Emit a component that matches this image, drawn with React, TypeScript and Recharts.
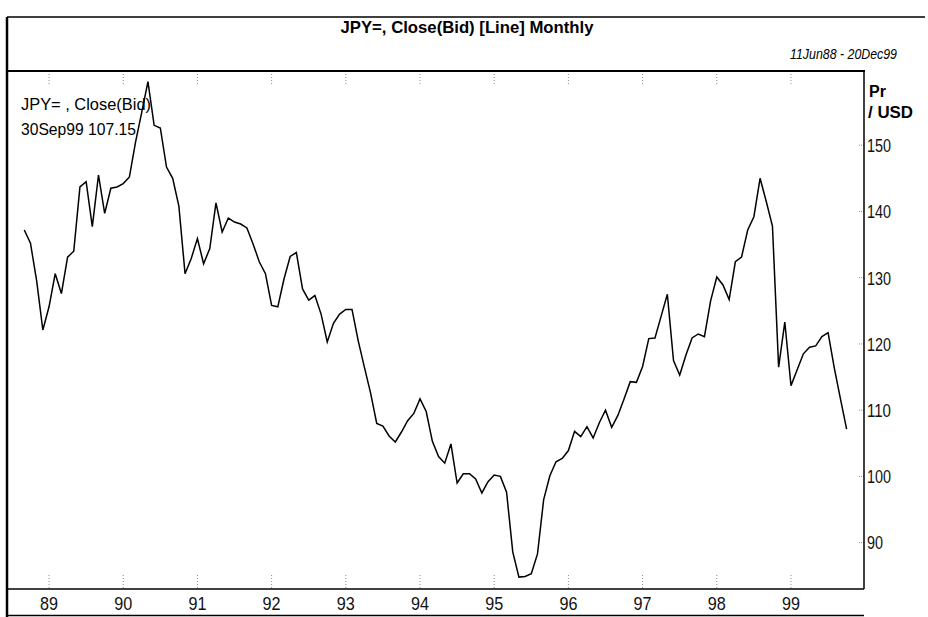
import { Line, LineChart, XAxis, YAxis } from "recharts";

// month-end closes, JPY per USD (first value = end Aug 1988)
const START_YEAR = 1988;
const START_MONTH = 8;

const closes1988 = [137.2, 135.2, 129.5, 122.1, 125.6];
const closes1989 = [130.6, 127.6, 133.1, 134.0, 143.7, 144.5, 137.7, 145.5, 139.7, 143.5, 143.7, 144.2];
const closes1990 = [145.2, 150.5, 155.0, 159.6, 153.0, 152.6, 146.7, 145.0, 140.8, 130.6, 132.9, 135.9];
const closes1991 = [132.1, 134.4, 141.3, 136.9, 139.0, 138.4, 138.1, 137.5, 135.1, 132.4, 130.6, 125.8];
const closes1992 = [125.6, 129.8, 133.2, 133.8, 128.3, 126.6, 127.3, 124.5, 120.3, 123.1, 124.5, 125.2];
const closes1993 = [125.2, 120.5, 116.5, 112.6, 108.0, 107.6, 106.1, 105.2, 106.7, 108.4, 109.5, 111.7];
const closes1994 = [109.8, 105.3, 103.0, 102.0, 104.9, 99.0, 100.4, 100.4, 99.6, 97.5, 99.2, 100.2];
const closes1995 = [100.0, 97.6, 88.6, 84.8, 84.9, 85.3, 88.3, 96.5, 100.1, 102.2, 102.7, 103.9];
const closes1996 = [106.8, 106.0, 107.5, 105.8, 108.1, 110.0, 107.4, 109.2, 111.7, 114.3, 114.2, 116.6];
const closes1997 = [120.8, 120.9, 124.2, 127.5, 117.5, 115.3, 118.3, 120.9, 121.5, 121.1, 126.5, 130.1];
const closes1998 = [128.9, 126.7, 132.4, 133.1, 137.2, 139.2, 145.0, 141.5, 137.8, 116.5, 123.3, 113.7];
const closes1999 = [116.1, 118.5, 119.5, 119.7, 121.1, 121.7, 116.4, 111.7, 107.15];

const closes = [
  ...closes1988,
  ...closes1989,
  ...closes1990,
  ...closes1991,
  ...closes1992,
  ...closes1993,
  ...closes1994,
  ...closes1995,
  ...closes1996,
  ...closes1997,
  ...closes1998,
  ...closes1999,
];

const yearTicks = [1989, 1990, 1991, 1992, 1993, 1994, 1995, 1996, 1997, 1998, 1999];
const priceTicks = [90, 100, 110, 120, 130, 140, 150];

// 11Jun88 - 20Dec99
const X_DOMAIN: [number, number] = [1988.447, 1999.984];
const Y_DOMAIN: [number, number] = [83, 161.2];

const W = 928;
const H = 617;
const PLOT = { left: 8, top: 71, right: 864, bottom: 589 };
const FONT = "'Liberation Sans Narrow', 'Liberation Sans', Arial, sans-serif";

const data = closes.map((close, i) => ({ t: START_YEAR + (START_MONTH + i) / 12, close }));

function YearTick({ x, payload }: any) {
  const label = String(payload.value).slice(2);
  return (
    <g>
      <line x1={x} x2={x} y1={PLOT.top} y2={PLOT.top + 14} stroke="#8a8a8a" strokeDasharray="1 2" />
      <line x1={x} x2={x} y1={PLOT.bottom - 14} y2={PLOT.bottom} stroke="#8a8a8a" strokeDasharray="1 2" />
      <text
        x={x}
        y={610}
        textAnchor="middle"
        fontFamily={FONT}
        fontSize={19}
        textLength={label.length * 9}
        lengthAdjust="spacingAndGlyphs"
        fill="#111"
      >
        {label}
      </text>
    </g>
  );
}

function PriceTick({ y, payload }: any) {
  const label = String(payload.value);
  return (
    <g>
      <line x1={PLOT.right - 5} x2={PLOT.right} y1={y} y2={y} stroke="#8a8a8a" strokeDasharray="1 1" />
      <text
        x={PLOT.right + 3}
        y={y}
        dy="0.36em"
        fontFamily={FONT}
        fontSize={19}
        textLength={label.length * 8}
        lengthAdjust="spacingAndGlyphs"
        fill="#111"
      >
        {label}
      </text>
    </g>
  );
}

export default function App() {
  return (
    <div style={{ position: "absolute", left: 0, top: 0, width: W, height: H, background: "#fff" }}>
      <LineChart
        width={W}
        height={H}
        data={data}
        margin={{ top: PLOT.top, left: PLOT.left, right: 0, bottom: 0 }}
      >
        <XAxis
          dataKey="t"
          type="number"
          domain={X_DOMAIN}
          ticks={yearTicks}
          interval={0}
          allowDataOverflow
          axisLine={false}
          tickLine={false}
          height={H - PLOT.bottom}
          tick={<YearTick />}
        />
        <YAxis
          orientation="right"
          type="number"
          domain={Y_DOMAIN}
          ticks={priceTicks}
          interval={0}
          allowDataOverflow
          axisLine={false}
          tickLine={false}
          width={W - PLOT.right}
          tick={<PriceTick />}
        />
        <Line
          type="linear"
          dataKey="close"
          stroke="#000"
          strokeWidth={1.5}
          dot={false}
          activeDot={false}
          isAnimationActive={false}
        />
      </LineChart>

      <svg
        width={W}
        height={H}
        style={{ position: "absolute", left: 0, top: 0, pointerEvents: "none" }}
      >
        {/* frames */}
        <line x1={7} x2={925} y1={17} y2={17} stroke="#000" strokeWidth={1.5} />
        <line x1={7} x2={7} y1={17} y2={617} stroke="#000" strokeWidth={2.5} />
        <line x1={7} x2={PLOT.right + 1} y1={PLOT.top} y2={PLOT.top} stroke="#000" strokeWidth={2} />
        <line x1={PLOT.right} x2={PLOT.right} y1={PLOT.top} y2={PLOT.bottom} stroke="#000" strokeWidth={1.5} />
        <line x1={7} x2={PLOT.right} y1={PLOT.bottom} y2={PLOT.bottom} stroke="#000" strokeWidth={1.5} />
        <line x1={7} x2={PLOT.right} y1={615.5} y2={615.5} stroke="#000" strokeWidth={1.5} />

        {/* header */}
        <text x={467} y={33} textAnchor="middle" fontFamily={FONT} fontWeight="bold" fontSize={17} textLength={253} lengthAdjust="spacingAndGlyphs" fill="#000">
          JPY=, Close(Bid) [Line] Monthly
        </text>
        <text x={897} y={59} textAnchor="end" fontFamily={FONT} fontStyle="italic" fontSize={15} textLength={107} lengthAdjust="spacingAndGlyphs" fill="#000">
          11Jun88 - 20Dec99
        </text>

        {/* series label */}
        <text x={21} y={110} fontFamily={FONT} fontSize={17} textLength={130} lengthAdjust="spacingAndGlyphs" fill="#000">
          JPY= , Close(Bid)
        </text>
        <text x={21} y={135} fontFamily={FONT} fontSize={17} textLength={115} lengthAdjust="spacingAndGlyphs" fill="#000">
          30Sep99 107.15
        </text>

        {/* axis unit */}
        <text x={869} y={97} fontFamily={FONT} fontWeight="bold" fontSize={16} fill="#000">
          Pr
        </text>
        <text x={868} y={118} fontFamily={FONT} fontWeight="bold" fontSize={16} textLength={45} lengthAdjust="spacingAndGlyphs" fill="#000">
          / USD
        </text>
      </svg>
    </div>
  );
}
